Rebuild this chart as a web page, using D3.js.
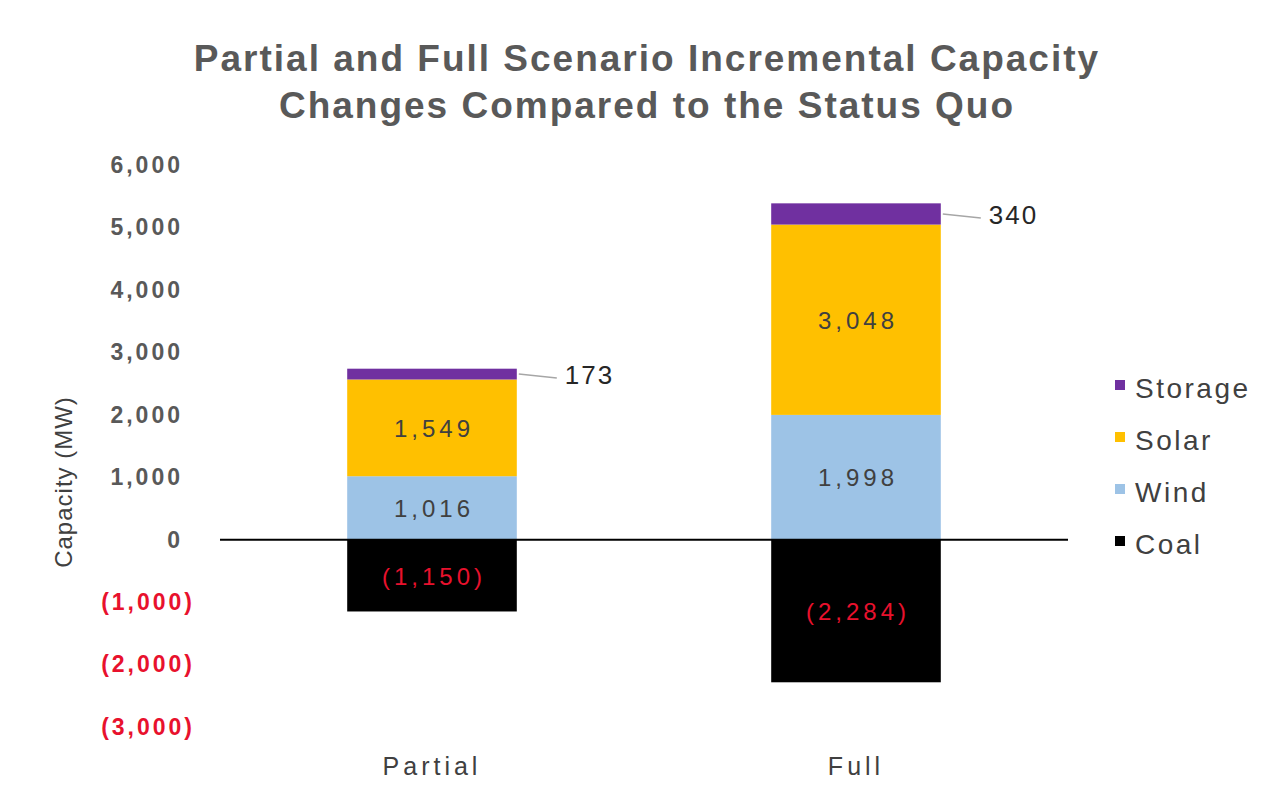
<!DOCTYPE html>
<html>
<head>
<meta charset="utf-8">
<script src="https://cdn.jsdelivr.net/npm/d3@7"></script>
<style>
  body { margin: 0; background: #fff; }
  text { font-family: "Liberation Sans", Arial, sans-serif; }
</style>
</head>
<body>
<div class="chart"></div>
<script>
var scenarios = ["Partial", "Full"];
var coal = [-1150, -2284];
var wind = [1016, 1998];
var solar = [1549, 3048];
var storage = [173, 340];
var yTicks = [-3000, -2000, -1000, 0, 1000, 2000, 3000, 4000, 5000, 6000];
var seriesNames = ["Storage", "Solar", "Wind", "Coal"];
var seriesColors = { Storage: "#7030a0", Solar: "#ffc000", Wind: "#9dc3e6", Coal: "#000000" };

var svgWidth = 1280, svgHeight = 797;
var margin = { top: 165, right: 212, bottom: 70, left: 220 };
var width = svgWidth - margin.left - margin.right;

var svg = d3.select(".chart").append("svg")
    .attr("width", svgWidth).attr("height", svgHeight);

var x = d3.scaleBand().domain(scenarios).range([0, width])
    .paddingInner(0.6).paddingOuter(0.3);
var y = d3.scaleLinear().domain([-3000, 6000]).range([727, 165]);

var g = svg.append("g").attr("transform", `translate(${margin.left},0)`);

// title
var titleLines = ["Partial and Full Scenario Incremental Capacity", "Changes Compared to the Status Quo"];
titleLines.forEach(function(t, i) {
    svg.append("text").attr("x", 647).attr("y", 71 + i * 47).attr("text-anchor", "middle")
        .attr("font-size", 37).attr("font-weight", "bold").attr("fill", "#595959")
        .attr("letter-spacing", 2)
        .text(t);
});

// y axis
var fmt = d3.format(",");
var yAxis = d3.axisLeft(y).tickValues(yTicks).tickSize(0).tickPadding(37)
    .tickFormat(d => d < 0 ? "(" + fmt(-d) + ")" : fmt(d));
var ya = g.append("g").call(yAxis);
ya.select(".domain").remove();
ya.selectAll("text").attr("font-size", 23).attr("font-weight", "bold")
    .attr("letter-spacing", 3)
    .attr("dx", d => d < 0 ? 12 : 0)
    .attr("fill", d => d < 0 ? "#e8112d" : "#595959");

svg.append("text").attr("transform", "translate(72,482) rotate(-90)")
    .attr("text-anchor", "middle").attr("font-size", 24).attr("fill", "#404040")
    .attr("letter-spacing", 1)
    .text("Capacity (MW)");

// stacked bars
scenarios.forEach(function(s, i) {
    var stacks = [
        { name: "Coal", y0: coal[i], y1: 0, v: coal[i] },
        { name: "Wind", y0: 0, y1: wind[i], v: wind[i] },
        { name: "Solar", y0: wind[i], y1: wind[i] + solar[i], v: solar[i] },
        { name: "Storage", y0: wind[i] + solar[i], y1: wind[i] + solar[i] + storage[i], v: storage[i] }
    ];
    var bx = x(s), bw = x.bandwidth();
    g.selectAll(".bar-" + i).data(stacks).enter().append("rect")
        .attr("x", bx).attr("width", bw)
        .attr("y", d => y(d.y1)).attr("height", d => y(d.y0) - y(d.y1))
        .attr("fill", d => seriesColors[d.name]);

    stacks.forEach(function(d) {
        var mid = (y(d.y0) + y(d.y1)) / 2;
        if (d.name === "Storage") {
            var lx = bx + bw + 48;
            g.append("line").attr("x1", bx + bw + 2).attr("y1", mid)
                .attr("x2", lx - 8).attr("y2", mid + 4)
                .attr("stroke", "#a6a6a6").attr("stroke-width", 1.5);
            g.append("text").attr("x", lx).attr("y", mid + 10)
                .attr("font-size", 26).attr("fill", "#262626").attr("letter-spacing", 2)
                .text(fmt(d.v));
        } else {
            g.append("text").attr("x", bx + bw / 2 + 2).attr("y", mid + 9)
                .attr("text-anchor", "middle").attr("font-size", 24)
                .attr("letter-spacing", 4)
                .attr("fill", d.v < 0 ? "#e8112d" : "#404040")
                .text(d.v < 0 ? "(" + fmt(-d.v) + ")" : fmt(d.v));
        }
    });
});

// zero line
g.append("line").attr("x1", 0).attr("x2", width)
    .attr("y1", y(0)).attr("y2", y(0))
    .attr("stroke", "#000").attr("stroke-width", 2);

// x axis labels
var xa = g.append("g").attr("transform", `translate(0,${y(-3000)})`)
    .call(d3.axisBottom(x).tickSize(0).tickPadding(30));
xa.select(".domain").remove();
xa.selectAll("text").attr("font-size", 25).attr("fill", "#404040").attr("letter-spacing", 4);

// legend
var legend = svg.append("g").attr("transform", "translate(1115,388)");
seriesNames.forEach(function(n, i) {
    var row = legend.append("g").attr("transform", `translate(0,${i * 52})`);
    row.append("rect").attr("x", 0).attr("y", -8).attr("width", 10).attr("height", 10)
        .attr("fill", seriesColors[n]);
    row.append("text").attr("x", 20).attr("y", 10).attr("font-size", 28)
        .attr("fill", "#404040").attr("letter-spacing", 2.5).text(n);
});
</script>
</body>
</html>
